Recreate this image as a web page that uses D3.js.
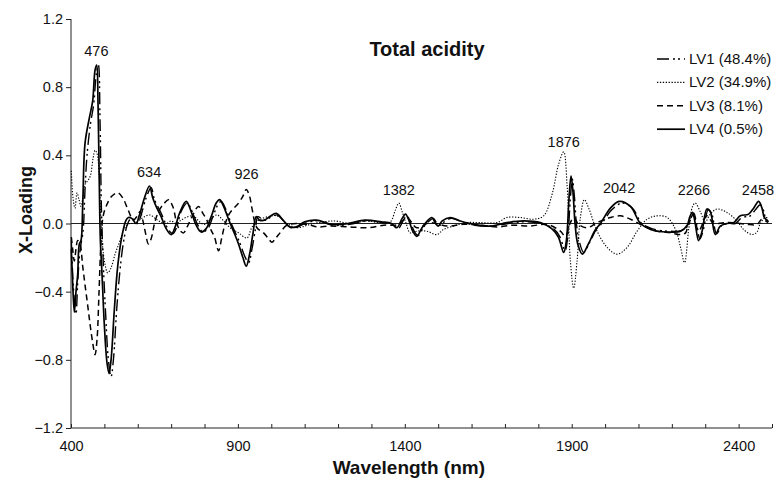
<!DOCTYPE html>
<html>
<head>
<meta charset="utf-8">
<script src="https://cdn.jsdelivr.net/npm/d3@7"></script>
<style>
  body { margin: 0; background: #fff; }
  text { font-family: "Liberation Sans", Arial, sans-serif; fill: #111; }
</style>
</head>
<body>
<script>
// Loading curves: [wavelength nm, loading]
const lv1 = [[401,-0.1],[405,-0.3],[410,-0.45],[415,-0.53],[420,-0.35],[425,-0.2],[430,-0.12],[436,-0.05],[442,0.2],[448,0.4],[458,0.58],[468,0.7],[476,0.88],[482,0.93],[487,0.6],[491,0.1],[496,-0.2],[503,-0.5],[512,-0.8],[520,-0.9],[527,-0.8],[537,-0.5],[547,-0.27],[558,-0.1],[570,0.0],[580,0.03],[592,0.02],[600,0.0],[610,0.05],[625,0.15],[640,0.21],[650,0.14],[660,0.1],[675,0.04],[690,-0.03],[705,-0.06],[717,-0.02],[730,0.07],[748,0.12],[765,0.06],[780,-0.01],[795,-0.05],[810,-0.03],[825,0.04],[840,0.11],[850,0.13],[860,0.1],[880,0.0],[905,-0.11],[920,-0.19],[932,-0.23],[942,-0.15],[952,-0.04],[960,0.04],[970,0.03],[985,0.02],[1000,0.04],[1018,0.05],[1040,0.01],[1060,-0.025],[1080,-0.02],[1105,0.005],[1140,0.015],[1185,-0.01],[1235,-0.005],[1285,0.015],[1335,0.005],[1365,-0.005],[1380,-0.03],[1396,0.02],[1406,0.045],[1416,0.015],[1428,-0.045],[1440,-0.07],[1455,-0.025],[1470,0.01],[1486,0.03],[1496,0.0],[1505,-0.01],[1518,0.01],[1540,0.03],[1570,0.01],[1610,-0.01],[1660,-0.015],[1710,0.0],[1760,0.01],[1810,0.0],[1845,-0.03],[1865,-0.08],[1880,-0.16],[1888,-0.08],[1896,0.15],[1902,0.26],[1908,0.16],[1914,0.0],[1922,-0.1],[1936,-0.17],[1954,-0.11],[1975,-0.03],[1990,0.0],[2020,0.08],[2050,0.12],[2082,0.09],[2110,0.0],[2140,-0.03],[2190,-0.045],[2230,-0.04],[2250,-0.01],[2258,0.035],[2266,0.06],[2274,0.0],[2284,-0.09],[2294,-0.04],[2309,0.08],[2319,0.06],[2334,-0.06],[2350,-0.01],[2370,0.0],[2390,0.0],[2410,0.035],[2435,0.045],[2450,0.08],[2465,0.11],[2474,0.08],[2481,0.03],[2490,0.01]]
const lv2 = [[401,0.31],[406,0.15],[412,0.09],[418,0.18],[424,0.14],[430,0.1],[436,0.16],[442,0.23],[450,0.25],[458,0.28],[466,0.38],[472,0.43],[478,0.41],[484,0.3],[489,0.05],[494,-0.12],[502,-0.24],[510,-0.29],[520,-0.26],[532,-0.18],[545,-0.11],[560,-0.03],[575,0.0],[590,0.0],[605,0.02],[620,0.04],[637,0.05],[652,0.03],[667,0.01],[685,0.0],[700,0.015],[715,0.0],[730,0.02],[750,0.04],[767,0.045],[785,0.01],[800,-0.005],[820,0.03],[837,0.05],[855,0.02],[877,-0.025],[902,-0.055],[927,-0.085],[940,-0.03],[950,0.0],[967,0.025],[990,0.04],[1017,0.045],[1047,0.0],[1077,-0.025],[1117,-0.005],[1187,0.015],[1237,0.0],[1287,0.015],[1337,0.0],[1357,0.01],[1372,0.08],[1382,0.12],[1392,0.07],[1404,0.0],[1416,-0.055],[1436,-0.045],[1466,-0.045],[1496,-0.065],[1516,-0.035],[1546,-0.015],[1586,0.005],[1626,0.005],[1676,0.005],[1706,0.035],[1746,0.035],[1786,0.025],[1816,0.045],[1841,0.17],[1861,0.35],[1876,0.42],[1886,0.23],[1896,-0.22],[1906,-0.38],[1916,-0.22],[1926,0.035],[1938,0.14],[1951,0.09],[1976,-0.045],[2006,-0.14],[2036,-0.18],[2066,-0.14],[2096,-0.045],[2126,0.025],[2156,0.045],[2186,0.035],[2211,-0.035],[2226,-0.14],[2238,-0.23],[2251,-0.025],[2262,0.1],[2270,0.12],[2285,0.07],[2300,0.01],[2315,0.055],[2335,0.085],[2365,0.065],[2395,0.015],[2415,-0.035],[2440,-0.065],[2455,-0.05],[2465,0.0],[2480,0.035],[2490,0.03]]
const lv3 = [[401,-0.08],[405,-0.15],[410,-0.22],[415,-0.15],[420,-0.1],[427,-0.12],[435,-0.25],[442,-0.36],[450,-0.48],[457,-0.59],[465,-0.7],[472,-0.77],[478,-0.68],[484,-0.4],[490,-0.1],[496,0.04],[505,0.1],[522,0.16],[540,0.18],[555,0.15],[569,0.09],[587,0.02],[600,0.05],[607,0.07],[615,0.02],[622,-0.045],[632,-0.12],[640,-0.09],[652,0.015],[665,0.08],[680,0.12],[692,0.14],[705,0.1],[717,0.0],[728,-0.045],[737,-0.055],[748,-0.02],[760,0.03],[782,0.1],[795,0.06],[807,0.02],[820,-0.04],[830,-0.08],[842,-0.16],[852,-0.08],[862,0.0],[877,0.065],[902,0.12],[915,0.16],[925,0.2],[935,0.16],[942,0.09],[957,-0.025],[977,-0.055],[992,-0.09],[1002,-0.11],[1012,-0.09],[1022,-0.065],[1047,-0.01],[1077,0.0],[1117,-0.01],[1137,-0.02],[1177,-0.015],[1237,-0.02],[1287,-0.025],[1337,-0.01],[1382,-0.005],[1406,0.035],[1436,-0.025],[1476,0.005],[1526,-0.015],[1576,-0.005],[1626,-0.01],[1676,-0.02],[1726,-0.01],[1776,-0.015],[1826,-0.005],[1866,-0.045],[1881,-0.075],[1896,0.005],[1906,0.035],[1921,-0.005],[1946,-0.025],[1976,0.005],[2016,0.035],[2046,0.045],[2076,0.025],[2116,-0.015],[2156,-0.045],[2196,-0.055],[2226,-0.065],[2241,-0.055],[2250,0.0],[2265,0.045],[2280,-0.045],[2305,0.045],[2325,0.0],[2355,0.005],[2385,0.005],[2425,-0.005],[2455,-0.005],[2470,0.025],[2488,0.005]]
const lv4 = [[401,-0.15],[405,-0.35],[410,-0.52],[415,-0.4],[420,-0.3],[425,-0.12],[430,-0.1],[435,0.1],[442,0.47],[455,0.62],[465,0.72],[472,0.9],[477,0.93],[481,0.7],[485,0.2],[488,-0.1],[493,-0.3],[500,-0.6],[508,-0.82],[514,-0.88],[520,-0.8],[530,-0.5],[540,-0.25],[552,-0.08],[565,0.02],[572,0.035],[582,0.03],[595,0.0],[605,0.05],[620,0.15],[635,0.22],[645,0.15],[655,0.1],[670,0.04],[685,-0.03],[700,-0.065],[712,-0.02],[725,0.06],[745,0.13],[760,0.07],[775,-0.01],[790,-0.05],[805,-0.03],[820,0.04],[835,0.12],[845,0.14],[855,0.11],[875,0.01],[900,-0.11],[915,-0.2],[925,-0.25],[935,-0.18],[945,-0.06],[955,0.04],[965,0.02],[980,0.02],[995,0.04],[1015,0.06],[1035,0.02],[1055,-0.02],[1075,-0.02],[1100,0.01],[1135,0.02],[1180,-0.005],[1230,0.0],[1280,0.02],[1330,0.01],[1360,0.0],[1376,-0.025],[1392,0.03],[1402,0.055],[1412,0.02],[1425,-0.05],[1436,-0.075],[1450,-0.03],[1465,0.01],[1481,0.035],[1492,0.0],[1500,-0.015],[1512,0.015],[1536,0.035],[1566,0.015],[1606,-0.005],[1656,-0.015],[1706,0.005],[1756,0.015],[1806,0.005],[1840,-0.03],[1860,-0.08],[1876,-0.17],[1884,-0.1],[1892,0.15],[1898,0.28],[1904,0.18],[1910,0.0],[1918,-0.12],[1932,-0.18],[1950,-0.12],[1970,-0.04],[1986,0.0],[2016,0.09],[2042,0.13],[2076,0.1],[2106,0.0],[2136,-0.035],[2186,-0.05],[2226,-0.045],[2246,-0.01],[2254,0.04],[2262,0.065],[2270,0.0],[2280,-0.1],[2290,-0.05],[2305,0.085],[2315,0.07],[2330,-0.065],[2345,-0.015],[2365,0.0],[2385,0.005],[2405,0.045],[2430,0.055],[2445,0.09],[2460,0.13],[2470,0.09],[2477,0.035],[2488,0.015]]

const seriesNames = ['LV1 (48.4%)', 'LV2 (34.9%)', 'LV3 (8.1%)', 'LV4 (0.5%)']
const peakWl = [476, 634, 926, 1382, 1876, 2042, 2266, 2458]
const peakLabelVal = [0.98, 0.27, 0.26, 0.17, 0.45, 0.18, 0.17, 0.17]
const yTicks = [-1.2, -0.8, -0.4, 0, 0.4, 0.8, 1.2]
const xLabelTicks = [400, 900, 1400, 1900, 2400]

const W = 783, H = 483
const margin = { top: 19, right: 11, bottom: 55, left: 71 }
const width = W - margin.left - margin.right
const height = H - margin.top - margin.bottom

const svg = d3.select('body').append('svg')
    .attr('width', W)
    .attr('height', H)

const g = svg.append('g')
    .attr('transform', `translate(${margin.left},${margin.top})`)

const x = d3.scaleLinear().domain([400, 2500]).range([0, width])
const y = d3.scaleLinear().domain([-1.2, 1.2]).range([height, 0])

// styles per series
const styles = [
    { dash: '12,4,2,3,2,4', w: 1.4 },
    { dash: '1.3,1.6', w: 1.1 },
    { dash: '6,4', w: 1.5 },
    { dash: null, w: 1.7 }
]

// axes
const yAxis = g.append('g')
    .call(d3.axisLeft(y).tickValues(yTicks).tickSize(5).tickPadding(3)
        .tickFormat(d3.format('.1f')))
yAxis.selectAll('text').style('font-size', '14.5px')

const xAxis = g.append('g')
    .attr('transform', `translate(0,${height})`)
    .call(d3.axisBottom(x).tickValues(d3.range(400, 2501, 100)).tickSize(-4)
        .tickFormat(d => xLabelTicks.includes(d) ? d : ''))
xAxis.selectAll('text').style('font-size', '14.5px').attr('dy', '1.35em')

svg.selectAll('.domain, .tick line').attr('stroke', '#222').attr('stroke-width', 1)
svg.selectAll('.domain').attr('d', function () { return d3.select(this).attr('d') })
yAxis.select('.domain').attr('d', `M0,${height}V0`)
xAxis.select('.domain').attr('d', `M0,0H${width}`)

// zero line
g.append('line')
    .attr('x1', 0).attr('x2', width)
    .attr('y1', y(0)).attr('y2', y(0))
    .attr('stroke', '#222').attr('stroke-width', 1)

const line = d3.line()
    .x(d => x(d[0]))
    .y(d => y(d[1]))
    .curve(d3.curveCatmullRom.alpha(0.5))

const allSeries = [lv3, lv2, lv1, lv4]
const styleIdx = [2, 1, 0, 3]
allSeries.forEach((s, i) => {
    const st = styles[styleIdx[i]]
    g.append('path')
        .datum(s)
        .attr('fill', 'none')
        .attr('stroke', '#000')
        .attr('stroke-width', st.w)
        .attr('stroke-dasharray', st.dash)
        .attr('d', line)
})

// peak labels
g.selectAll('.peak')
    .data(peakWl)
    .enter().append('text')
    .attr('class', 'peak')
    .attr('x', d => x(d))
    .attr('y', (d, i) => y(peakLabelVal[i]))
    .attr('text-anchor', 'middle')
    .style('font-size', '14.5px')
    .text(d => d)

// title
svg.append('text')
    .attr('x', 427).attr('y', 56)
    .attr('text-anchor', 'middle')
    .style('font-size', '20px').style('font-weight', 'bold')
    .text('Total acidity')

// axis titles
svg.append('text')
    .attr('x', margin.left + x(1412)).attr('y', 474)
    .attr('text-anchor', 'middle')
    .style('font-size', '19px').style('font-weight', 'bold')
    .text('Wavelength (nm)')

svg.append('text')
    .attr('transform', 'translate(32,210) rotate(-90)')
    .attr('text-anchor', 'middle')
    .style('font-size', '18px').style('font-weight', 'bold')
    .text('X-Loading')

// legend
const legend = svg.append('g').attr('transform', 'translate(657,59)')
seriesNames.forEach((name, i) => {
    const row = legend.append('g').attr('transform', `translate(0,${i * 23.4})`)
    row.append('line')
        .attr('x1', 0).attr('x2', 28)
        .attr('stroke', '#000')
        .attr('stroke-width', styles[i].w)
        .attr('stroke-dasharray', styles[i].dash)
    row.append('text')
        .attr('x', 32).attr('y', 5)
        .style('font-size', '15px')
        .text(name)
})
</script>
</body>
</html>
